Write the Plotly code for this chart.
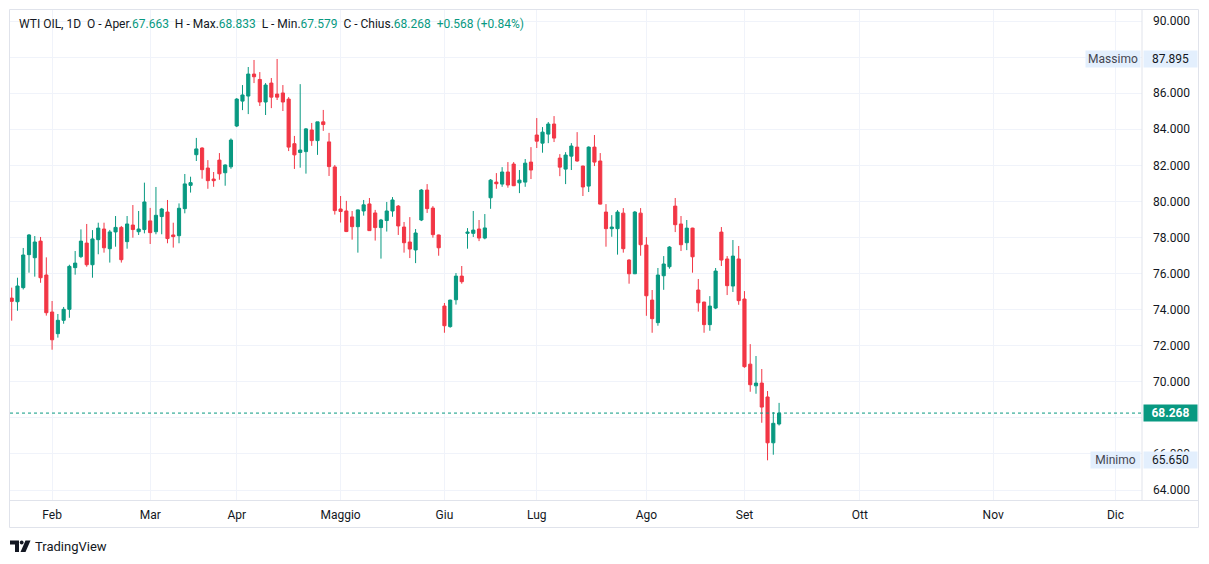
import plotly.graph_objects as go

# ---------------- data ----------------
opens = [74.64, 74.44, 75.22, 77.05, 76.88, 77.80, 75.92, 73.87, 72.67, 73.41,
         74.02, 76.33, 76.94, 77.69, 76.49, 77.88, 78.47, 77.38, 78.31, 78.56,
         77.77, 78.69, 78.32, 78.44, 78.92, 78.32, 79.16, 79.41, 78.14, 78.10,
         79.60, 80.89, 82.59, 82.96, 81.85, 81.24, 82.29, 81.59, 81.92, 84.18,
         85.56, 85.84, 87.06, 86.76, 85.51, 86.56, 85.95, 86.01, 85.67, 83.20,
         82.71, 82.76, 83.96, 83.37, 84.41, 83.30, 81.91, 79.58, 79.47, 79.14,
         78.60, 79.47, 79.86, 79.36, 78.55, 78.94, 79.47, 79.74, 78.58, 77.75,
         77.31, 78.97, 80.63, 79.63, 78.14, 74.20, 73.06, 74.55, 75.86, 78.23,
         78.23, 78.47, 77.97, 80.20, 81.07, 80.96, 81.63, 82.07, 81.03, 81.07,
         82.18, 83.68, 83.23, 83.73, 84.29, 82.40, 81.79, 82.51, 83.01, 81.96,
         80.85, 83.01, 82.24, 79.41, 78.49, 78.49, 79.35, 76.75, 75.99, 79.35,
         77.58, 74.53, 73.28, 75.88, 76.38, 79.74, 78.75, 77.71, 78.52, 75.09,
         74.42, 73.17, 74.09, 78.30, 76.81, 75.31, 76.81, 74.59, 70.98, 69.78,
         69.93, 69.16, 66.62, 67.663]
highs = [75.22, 75.77, 77.42, 78.19, 78.08, 78.03, 76.90, 74.48, 73.76, 74.15,
         76.49, 77.25, 78.45, 78.75, 78.41, 78.82, 78.82, 78.42, 79.19, 78.64,
         79.19, 79.80, 79.47, 81.04, 79.64, 80.80, 79.64, 80.08, 78.82, 79.89,
         81.52, 81.37, 83.52, 83.00, 82.29, 81.63, 82.68, 82.05, 83.49, 85.73,
         86.45, 87.45, 87.84, 87.17, 86.56, 86.84, 87.895, 86.45, 85.78, 83.63,
         86.50, 84.07, 84.35, 84.41, 85.07, 83.80, 82.02, 80.30, 80.03, 79.47,
         79.55, 80.08, 80.19, 79.53, 79.03, 79.97, 80.24, 79.80, 78.86, 79.13,
         78.47, 80.69, 80.96, 79.74, 78.16, 74.37, 74.55, 76.03, 76.42, 78.52,
         79.47, 78.97, 79.30, 81.24, 81.57, 81.90, 82.18, 82.18, 81.74, 82.35,
         83.01, 84.62, 84.12, 84.40, 84.73, 82.62, 82.73, 83.23, 83.84, 81.98,
         83.05, 83.68, 82.68, 79.85, 79.24, 79.52, 79.63, 76.80, 79.47, 79.63,
         78.02, 75.09, 76.31, 76.97, 77.52, 80.19, 79.19, 78.97, 78.54, 75.70,
         74.44, 74.75, 76.31, 78.58, 76.97, 77.86, 77.53, 75.03, 72.09, 71.43,
         70.71, 69.49, 68.32, 68.833]
lows = [73.39, 73.94, 75.12, 76.05, 75.83, 75.49, 73.67, 71.78, 72.45, 73.22,
        73.55, 75.94, 76.86, 76.38, 75.77, 77.07, 77.16, 76.61, 77.49, 76.61,
        77.38, 77.99, 78.14, 78.23, 77.64, 78.18, 78.18, 77.68, 77.44, 77.68,
        79.34, 80.49, 82.24, 81.26, 80.70, 80.81, 81.20, 80.87, 81.81, 84.12,
        85.06, 84.84, 86.56, 85.29, 84.79, 85.17, 85.62, 85.01, 82.79, 81.80,
        81.87, 81.54, 83.08, 82.58, 83.91, 81.41, 79.27, 78.83, 78.30, 77.88,
        77.16, 79.21, 78.36, 77.83, 76.83, 78.33, 79.15, 78.14, 77.16, 76.86,
        76.58, 78.91, 79.36, 77.99, 76.99, 72.72, 73.00, 74.28, 75.44, 77.38,
        78.03, 77.80, 77.90, 79.59, 80.70, 80.81, 80.76, 80.85, 80.46, 80.81,
        81.24, 82.96, 82.70, 83.23, 83.29, 81.40, 80.96, 81.74, 82.20, 80.30,
        80.52, 81.96, 79.83, 77.49, 78.04, 77.05, 77.16, 75.44, 75.97, 76.99,
        73.66, 72.72, 73.11, 75.10, 76.27, 78.30, 77.25, 77.30, 76.05, 73.89,
        72.72, 72.83, 74.03, 76.42, 74.81, 74.98, 74.27, 70.78, 69.45, 69.34,
        67.73, 65.65, 65.96, 67.579]
closes = [74.46, 75.31, 77.03, 78.14, 77.75, 75.77, 73.83, 72.33, 73.41, 74.02,
          76.40, 76.58, 77.80, 76.49, 77.92, 78.52, 77.43, 78.31, 78.56, 76.77,
          78.75, 78.44, 78.47, 79.97, 78.27, 79.23, 79.58, 77.94, 78.05, 79.62,
          80.97, 81.04, 82.91, 81.76, 81.15, 81.15, 81.53, 82.02, 83.40, 85.67,
          85.90, 87.06, 86.91, 85.51, 86.45, 85.78, 85.78, 85.51, 83.01, 82.58,
          82.85, 84.02, 83.37, 84.41, 84.26, 81.93, 79.49, 79.44, 78.33, 78.60,
          79.53, 79.81, 78.38, 78.55, 78.97, 79.47, 80.08, 78.64, 77.71, 77.36,
          78.25, 80.63, 79.60, 78.16, 77.43, 73.11, 74.53, 75.86, 75.55, 78.30,
          78.41, 77.97, 78.53, 81.18, 80.98, 81.63, 80.91, 80.87, 81.18, 82.12,
          81.74, 83.34, 83.84, 84.29, 83.51, 81.90, 82.57, 83.07, 82.24, 80.80,
          83.01, 82.18, 79.85, 78.49, 78.58, 79.41, 77.38, 75.99, 79.41, 77.60,
          74.77, 73.50, 75.92, 76.53, 77.47, 78.71, 77.60, 78.52, 76.93, 74.38,
          73.17, 74.20, 76.14, 76.75, 75.33, 76.97, 74.50, 70.84, 69.84, 69.93,
          68.60, 66.62, 67.70, 68.268]

bars = list(range(len(closes)))

month_labels = ["Feb", "Mar", "Apr", "Maggio", "Giu", "Lug", "Ago", "Set", "Ott", "Nov", "Dic"]
month_bars = [7, 24, 39, 57, 75, 91, 110, 127, 147, 170.1, 191.3]
price_ticks = [64, 66, 68, 70, 72, 74, 76, 78, 80, 82, 84, 86, 88, 90]

symbol = "WTI OIL"
interval = "1D"

# ---------------- style ----------------
GREEN = "#089981"
RED = "#F23645"
TEXT = "#131722"
GRID = "#f0f3fa"
BORDER = "#e0e3eb"
FONT = "Roboto, Arial, sans-serif"

W, H = 1209, 564
PL, PR, PT, PB = 10, 1142, 10, 500  # plot area in pixels


def px_x(x):
    return (x - PL) / (PR - PL)


def px_y(y):
    return (PB - y) / (PB - PT)


fig = go.Figure()
fig.add_trace(go.Candlestick(
    x=bars, open=opens, high=highs, low=lows, close=closes,
    increasing=dict(line=dict(color=GREEN, width=1), fillcolor=GREEN),
    decreasing=dict(line=dict(color=RED, width=1), fillcolor=RED),
    whiskerwidth=0, showlegend=False, hoverinfo="skip",
))

last_close = closes[-1]
prev_close = closes[-2]
chg = last_close - prev_close
pct = chg / prev_close * 100
hi_val = max(highs)
lo_val = min(lows)

# price-scale labels: the one fully hidden behind the last-price badge is left blank
price_text = ["" if abs(t - last_close) < 0.5 else f"{t:.3f}" for t in price_ticks]

nb = "\u00a0"
def g(v):
    return f"<span style='color:{GREEN}'>{v}</span>"

header = (f"{symbol}, {interval}{nb}{nb}O - Aper.{g(f'{opens[-1]:.3f}')}{nb}{nb}"
          f"H - Max.{g(f'{highs[-1]:.3f}')}{nb}{nb}L - Min.{g(f'{lows[-1]:.3f}')}{nb}{nb}"
          f"C - Chius.{g(f'{last_close:.3f}')}{nb}{nb}{g(f'{chg:+.3f} ({pct:+.2f}%)')}")

annotations = [
    dict(xref="paper", yref="paper", x=px_x(17), y=px_y(24), xanchor="left", yanchor="middle",
         text=header, showarrow=False, font=dict(size=12, color=TEXT, family=FONT)),
    # Massimo
    dict(xref="paper", yref="y", x=px_x(1141), y=hi_val, xanchor="right", yanchor="middle",
         text="Massimo", showarrow=False, width=54, height=16, bgcolor="#e3effd", borderpad=0,
         font=dict(size=12, color="#434651", family=FONT)),
    dict(xref="paper", yref="y", x=px_x(1143), y=hi_val, xanchor="left", yanchor="middle",
         text=f"{hi_val:.3f}", showarrow=False, width=53, height=16, bgcolor="#e3effd", borderpad=0,
         font=dict(size=12, color=TEXT, family=FONT)),
    # Minimo
    dict(xref="paper", yref="y", x=px_x(1141), y=lo_val, xanchor="right", yanchor="middle",
         text="Minimo", showarrow=False, width=49, height=16, bgcolor="#e3effd", borderpad=0,
         font=dict(size=12, color="#434651", family=FONT)),
    dict(xref="paper", yref="y", x=px_x(1143), y=lo_val, xanchor="left", yanchor="middle",
         text=f"{lo_val:.3f}", showarrow=False, width=53, height=16, bgcolor="#e3effd", borderpad=0,
         font=dict(size=12, color=TEXT, family=FONT)),
    # last price
    dict(xref="paper", yref="y", x=px_x(1143), y=last_close, xanchor="left", yanchor="middle",
         text=f"<b>{last_close:.3f}</b>", showarrow=False, width=53, height=16, bgcolor=GREEN,
         borderpad=0, font=dict(size=12, color="white", family=FONT)),
    # TradingView brand
    dict(xref="paper", yref="paper", x=px_x(33), y=px_y(546), xanchor="left", yanchor="middle",
         text="TradingView", showarrow=False, font=dict(size=13, color=TEXT, family=FONT)),
]


def P(x, y):
    return f"{px_x(x):.5f},{px_y(y):.5f}"

shapes = [
    # outer frame
    dict(type="rect", xref="paper", yref="paper", x0=px_x(9.5), x1=px_x(1198.5),
         y0=px_y(527.5), y1=px_y(9.5), line=dict(color=BORDER, width=1), layer="above"),
    # price-scale divider
    dict(type="line", xref="paper", yref="paper", x0=px_x(1142), x1=px_x(1142),
         y0=px_y(500), y1=px_y(9.5), line=dict(color=BORDER, width=1), layer="above"),
    # time-scale divider
    dict(type="line", xref="paper", yref="paper", x0=px_x(9.5), x1=px_x(1198.5),
         y0=px_y(500.5), y1=px_y(500.5), line=dict(color=BORDER, width=1), layer="above"),
    # last price dotted line
    dict(type="line", xref="paper", yref="y", x0=0, x1=1, y0=last_close, y1=last_close,
         line=dict(color=GREEN, width=1, dash="dot"), layer="above"),
    # TradingView logo (approximation)
    dict(type="path", xref="paper", yref="paper",
         path=f"M{P(10,540.5)} L{P(19,540.5)} L{P(19,552)} L{P(15,552)} L{P(15,544.5)} L{P(10,544.5)} Z",
         fillcolor=TEXT, line=dict(width=0)),
    dict(type="circle", xref="paper", yref="paper", x0=px_x(19.8), x1=px_x(23.6),
         y0=px_y(544.6), y1=px_y(540.6), fillcolor=TEXT, line=dict(width=0)),
    dict(type="path", xref="paper", yref="paper",
         path=f"M{P(25.5,540.5)} L{P(30.5,540.5)} L{P(25.5,552)} L{P(20.5,552)} Z",
         fillcolor=TEXT, line=dict(width=0)),
]

fig.update_layout(
    width=W, height=H,
    margin=dict(l=PL, r=W - PR, t=PT, b=H - PB, pad=0),
    paper_bgcolor="white", plot_bgcolor="white",
    font=dict(family=FONT, size=12, color=TEXT),
    boxgap=0.22,
    annotations=annotations, shapes=shapes,
    showlegend=False,
)
fig.update_xaxes(
    type="linear", range=[-0.295, 195.9], rangeslider=dict(visible=False),
    tickmode="array", tickvals=month_bars, ticktext=month_labels,
    showgrid=True, gridcolor=GRID, gridwidth=1, zeroline=False, showline=False,
    ticks="", ticklabelstandoff=6, tickfont=dict(size=12, color=TEXT, family=FONT),
    fixedrange=True,
)
fig.update_yaxes(
    side="right", range=[63.45, 90.61],
    tickmode="array", tickvals=price_ticks, ticktext=price_text,
    showgrid=True, gridcolor=GRID, gridwidth=1, zeroline=False, showline=False,
    ticks="", ticklabelstandoff=10, tickfont=dict(size=12, color=TEXT, family=FONT),
    fixedrange=True,
)

fig.write_html("out.html")
